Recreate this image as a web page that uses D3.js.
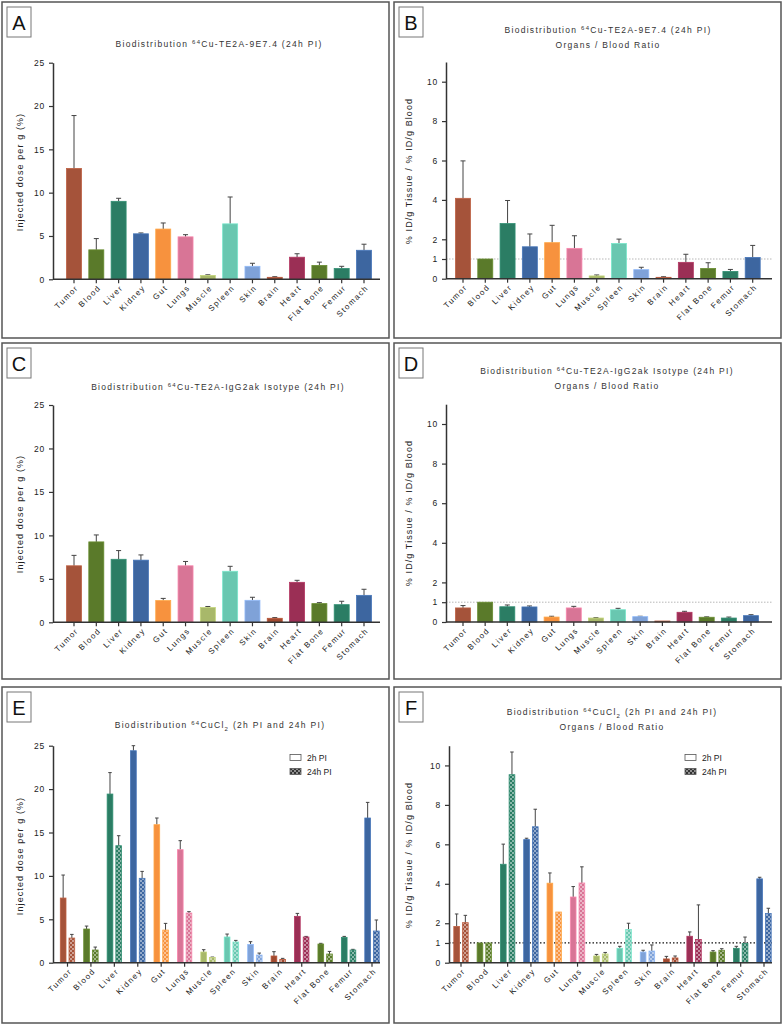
<!DOCTYPE html>
<html>
<head>
<meta charset="utf-8">
<script src="https://cdn.jsdelivr.net/npm/d3@7"></script>
<style>
  body { margin: 0; background: #fff; }
  svg { display: block; font-family: "Liberation Sans", Arial, sans-serif; }
</style>
</head>
<body>
<svg id="chart" width="784" height="1026"></svg>
<script>
// organs shown on every x axis
const organs = ["Tumor", "Blood", "Liver", "Kidney", "Gut", "Lungs", "Muscle", "Spleen",
  "Skin", "Brain", "Heart", "Flat Bone", "Femur", "Stomach"]
const organColors = ["#a5533a", "#5a7a2a", "#2b7d64", "#3d66a0", "#f7923e", "#d87596", "#a8b86a",
  "#69c7b0", "#7fa2d8", "#a04a30", "#9b2f55", "#5a7a2a", "#2b7d64", "#3d66a0"]

// A: 64Cu-TE2A-9E7.4, %ID/g (24h)
const aMean = [12.8, 3.4, 9.0, 5.25, 5.8, 4.9, 0.45, 6.4, 1.5, 0.23, 2.55, 1.6, 1.25, 3.35]
const aErr = [6.1, 1.3, 0.35, 0.1, 0.7, 0.25, 0.07, 3.1, 0.35, 0.07, 0.4, 0.38, 0.25, 0.7]
// B: organ / blood ratio
const bMean = [4.08, 1.0, 2.8, 1.62, 1.83, 1.54, 0.14, 1.79, 0.46, 0.07, 0.83, 0.52, 0.37, 1.08]
const bErr = [1.9, 0, 1.17, 0.65, 0.88, 0.64, 0.05, 0.22, 0.12, 0.03, 0.41, 0.29, 0.1, 0.61]
// C: 64Cu-TE2A-IgG2ak isotype, %ID/g (24h)
const cMean = [6.5, 9.25, 7.25, 7.15, 2.5, 6.5, 1.7, 5.87, 2.53, 0.46, 4.6, 2.15, 2.03, 3.1]
const cErr = [1.2, 0.8, 1.0, 0.6, 0.25, 0.5, 0.12, 0.57, 0.35, 0.08, 0.23, 0.11, 0.39, 0.7]
// D: organ / blood ratio
const dMean = [0.71, 1.0, 0.77, 0.76, 0.25, 0.71, 0.2, 0.62, 0.27, 0.05, 0.49, 0.24, 0.2, 0.32]
const dErr = [0.12, 0, 0.09, 0.05, 0.04, 0.08, 0.02, 0.07, 0.02, 0, 0.05, 0.02, 0.05, 0.05]
// E: 64CuCl2, %ID/g at 2h and 24h
const e2hMean = [7.45, 3.88, 19.43, 24.42, 15.9, 13.02, 1.23, 2.96, 2.11, 0.77, 5.34, 2.15, 2.92, 16.67]
const e2hErr = [2.65, 0.34, 2.47, 0.58, 0.77, 1.04, 0.27, 0.34, 0.31, 0.5, 0.34, 0.08, 0.11, 1.8]
const e24hMean = [2.84, 1.46, 13.48, 9.72, 3.76, 5.72, 0.61, 2.38, 0.88, 0.38, 2.96, 1.0, 1.46, 3.65]
const e24hErr = [0.42, 0.34, 1.15, 0.8, 0.77, 0.16, 0.04, 0.19, 0.23, 0.12, 0.07, 0.3, 0.08, 1.27]
// F: organ / blood ratio
const f2hMean = [1.84, 1.0, 4.99, 6.24, 4.03, 3.33, 0.34, 0.73, 0.54, 0.19, 1.34, 0.54, 0.73, 4.25]
const f2hErr = [0.63, 0, 1.02, 0.07, 0.52, 0.53, 0.08, 0.1, 0.09, 0.13, 0.22, 0.07, 0.1, 0.08]
const f24hMean = [2.03, 1.0, 9.53, 6.89, 2.57, 4.04, 0.44, 1.68, 0.59, 0.24, 1.18, 0.63, 0.98, 2.49]
const f24hErr = [0.37, 0, 1.15, 0.89, 0, 0.82, 0.08, 0.32, 0.31, 0.1, 1.75, 0.08, 0.32, 0.27]

const seriesNames = ["2h PI", "24h PI"]
const doseTicks = [0, 5, 10, 15, 20, 25]
const ratioTicks = [0, 1, 2, 4, 6, 8, 10]

const svg = d3.select("#chart")
const defs = svg.append("defs")

// checkered fill for the 24h bars, one per colour
function checker(color, id) {
  const p = defs.append("pattern").attr("id", id)
    .attr("width", 4).attr("height", 4).attr("patternUnits", "userSpaceOnUse")
  p.append("rect").attr("width", 4).attr("height", 4).attr("fill", color)
  const light = d3.interpolateRgb(color, "#fff")(0.45)
  p.append("rect").attr("width", 2).attr("height", 2).attr("fill", light)
  p.append("rect").attr("x", 2).attr("y", 2).attr("width", 2).attr("height", 2).attr("fill", light)
  return `url(#${id})`
}
const checkFill = organColors.map((c, i) => checker(c, "chk" + i))
const legendCheck = checker("#333", "chkLegend")

function drawPanel(p) {
  const g = svg.append("g")
  // frame + letter box
  g.append("rect").attr("x", p.frame[0]).attr("y", p.frame[1])
    .attr("width", p.frame[2] - p.frame[0]).attr("height", p.frame[3] - p.frame[1])
    .attr("fill", "none").attr("stroke", "#555").attr("stroke-width", 1.5)
  g.append("rect").attr("x", p.frame[0] + 5).attr("y", p.frame[1] + 5)
    .attr("width", 24).attr("height", 30)
    .attr("fill", "#fff").attr("stroke", "#777").attr("stroke-width", 1)
  g.append("text").attr("x", p.frame[0] + 17).attr("y", p.frame[1] + 28)
    .attr("text-anchor", "middle").style("font-size", "20px").style("fill", "#111")
    .text(p.letter)

  // title lines; a part may be {sup} or {sub}
  p.title.forEach((line, li) => {
    const t = g.append("text").attr("x", p.titleX).attr("y", p.titleY + li * 14.5)
      .attr("text-anchor", "middle").style("font-size", "8.5px")
      .style("letter-spacing", "1.3px").style("fill", "#333")
    let back = 0
    line.forEach(part => {
      if (typeof part === "string") {
        const s = t.append("tspan").text(part)
        if (back) s.attr("dy", back)
        back = 0
      } else {
        const dy = part.sup ? -3.5 : 2.5
        t.append("tspan").attr("dy", dy).style("font-size", "6px").text(part.sup || part.sub)
        back = -dy
      }
    })
  })

  const y = d3.scaleLinear().domain([0, p.yMax]).range([p.y0, p.yTop])
  const step = (p.c1 - p.c0) / (organs.length - 1)
  const groupW = p.grouped ? 14.4 : 15
  const pad = 1 - groupW / step
  const x = d3.scaleBand().domain(organs)
    .range([p.c0 - step / 2, p.c1 + step / 2])
    .paddingInner(pad).paddingOuter(pad / 2)

  // reference line at ratio 1
  if (p.refLine) {
    g.append("line").attr("x1", p.xLeft).attr("x2", p.xRight)
      .attr("y1", y(1)).attr("y2", y(1))
      .attr("stroke", p.refLine.color).attr("stroke-width", p.refLine.width)
      .attr("stroke-dasharray", p.refLine.dash)
  }

  const rows = []
  if (!p.grouped) {
    organs.forEach((o, i) => rows.push({
      x: x(o), w: x.bandwidth(), v: p.mean[i], e: p.err[i],
      fill: organColors[i], stroke: organColors[i]
    }))
  } else {
    const x1 = d3.scaleBand().domain(seriesNames).range([0, x.bandwidth()]).paddingInner(0.345)
    organs.forEach((o, i) => {
      rows.push({ x: x(o) + x1("2h PI"), w: x1.bandwidth(), v: p.mean[i], e: p.err[i],
        fill: organColors[i], stroke: organColors[i] })
      rows.push({ x: x(o) + x1("24h PI"), w: x1.bandwidth(), v: p.mean2[i], e: p.err2[i],
        fill: checkFill[i], stroke: organColors[i] })
    })
  }

  const cap = p.grouped ? 3.5 : 5
  const bars = g.append("g")
  rows.forEach(d => {
    const cx = d.x + d.w / 2
    if (d.e > 0) {
      bars.append("line").attr("x1", cx).attr("x2", cx)
        .attr("y1", y(d.v)).attr("y2", y(d.v + d.e))
        .attr("stroke", "#444").attr("stroke-width", 1)
      bars.append("line").attr("x1", cx - cap / 2).attr("x2", cx + cap / 2)
        .attr("y1", y(d.v + d.e)).attr("y2", y(d.v + d.e))
        .attr("stroke", "#444").attr("stroke-width", 1)
    }
    bars.append("rect").attr("x", d.x).attr("y", y(d.v))
      .attr("width", d.w).attr("height", y(0) - y(d.v))
      .attr("fill", d.fill)
      .attr("stroke", d3.color(d.stroke).brighter(0.4)).attr("stroke-width", 0.8)
  })

  // y axis
  const ya = g.append("g").attr("transform", `translate(${p.xLeft},0)`)
    .call(d3.axisLeft(y).tickValues(p.ticks).tickSize(4).tickSizeOuter(0).tickPadding(4))
  ya.select(".domain").attr("stroke", "#333").attr("stroke-width", 1.5)
  ya.selectAll(".tick line").attr("stroke", "#333").attr("stroke-width", 1.2)
  ya.selectAll(".tick text").style("fill", "#222").style("font-size", "8.5px")
    .style("letter-spacing", "0.8px").style("font-family", "Liberation Sans, Arial, sans-serif")

  // x axis
  const xa = g.append("g").attr("transform", `translate(0,${p.y0})`)
    .call(d3.axisBottom(x).tickSize(4).tickSizeOuter(0))
  xa.select(".domain").remove()
  xa.append("line").attr("x1", p.xLeft).attr("x2", p.xRight)
    .attr("stroke", "#333").attr("stroke-width", 1.5)
  xa.selectAll(".tick line").attr("stroke", "#333").attr("stroke-width", 1.2)
  xa.selectAll(".tick text")
    .attr("text-anchor", "end").style("fill", "#222")
    .attr("transform", "translate(3,7) rotate(-45)")
    .attr("dy", "0.35em").attr("y", 0)
    .style("font-size", "8px").style("letter-spacing", "1.4px")
    .style("font-family", "Liberation Sans, Arial, sans-serif")

  // y label
  g.append("text")
    .attr("transform", `translate(${p.labelX},${p.labelY}) rotate(-90)`)
    .attr("text-anchor", "middle").style("font-size", "9px")
    .style("letter-spacing", "1.1px").style("fill", "#222")
    .text(p.yLabel)

  // legend
  if (p.legendX) {
    seriesNames.forEach((s, i) => {
      const ly = p.legendY + i * 14
      g.append("rect").attr("x", p.legendX).attr("y", ly - 3.5).attr("width", 11).attr("height", 6)
        .attr("fill", i ? legendCheck : "#fff").attr("stroke", "#555").attr("stroke-width", 0.8)
      g.append("text").attr("x", p.legendX + 17).attr("y", ly + 3)
        .style("font-size", "8.5px").style("fill", "#222").text(s)
    })
  }
}

const doseLabel = "Injected dose per g (%)"
const ratioLabel = "% ID/g Tissue / % ID/g Blood"
const lightRef = { color: "#999", width: 0.7, dash: "1.5,1.5" }

drawPanel({ letter: "A", frame: [2, 2, 389, 338], title: [["Biodistribution ", { sup: "64" }, "Cu-TE2A-9E7.4 (24h PI)"]],
  titleX: 219, titleY: 47, xLeft: 53, xRight: 380, y0: 279.3, yTop: 62.7, yMax: 25, ticks: doseTicks,
  c0: 74, c1: 364, mean: aMean, err: aErr, yLabel: doseLabel, labelX: 23, labelY: 172 })
drawPanel({ letter: "B", frame: [394, 2, 781, 338],
  title: [["Biodistribution ", { sup: "64" }, "Cu-TE2A-9E7.4 (24h PI)"], ["Organs / Blood Ratio"]],
  titleX: 608, titleY: 33, xLeft: 446, xRight: 772, y0: 278.7, yTop: 62, yMax: 11, ticks: ratioTicks,
  c0: 463, c1: 752.7, mean: bMean, err: bErr, refLine: lightRef, yLabel: ratioLabel, labelX: 412, labelY: 171 })
drawPanel({ letter: "C", frame: [2, 343, 389, 679], title: [["Biodistribution ", { sup: "64" }, "Cu-TE2A-IgG2ak Isotype (24h PI)"]],
  titleX: 218, titleY: 390, xLeft: 53, xRight: 380, y0: 622.3, yTop: 405, yMax: 25, ticks: doseTicks,
  c0: 74, c1: 364, mean: cMean, err: cErr, yLabel: doseLabel, labelX: 23, labelY: 514 })
drawPanel({ letter: "D", frame: [394, 343, 781, 679],
  title: [["Biodistribution ", { sup: "64" }, "Cu-TE2A-IgG2ak Isotype (24h PI)"], ["Organs / Blood Ratio"]],
  titleX: 607, titleY: 374, xLeft: 446, xRight: 772, y0: 622, yTop: 404.2, yMax: 11, ticks: ratioTicks,
  c0: 463, c1: 751, mean: dMean, err: dErr, refLine: lightRef, yLabel: ratioLabel, labelX: 412, labelY: 513 })
drawPanel({ letter: "E", frame: [2, 687, 389, 1023], title: [["Biodistribution ", { sup: "64" }, "CuCl", { sub: "2" }, " (2h PI and 24h PI)"]],
  titleX: 220, titleY: 728, xLeft: 53, xRight: 380, y0: 962.7, yTop: 745.7, yMax: 25, ticks: doseTicks,
  c0: 67.5, c1: 372, grouped: true, mean: e2hMean, err: e2hErr, mean2: e24hMean, err2: e24hErr,
  yLabel: doseLabel, labelX: 23, labelY: 856, legendX: 290, legendY: 758 })
drawPanel({ letter: "F", frame: [394, 687, 781, 1023],
  title: [["Biodistribution ", { sup: "64" }, "CuCl", { sub: "2" }, " (2h PI and 24h PI)"], ["Organs / Blood Ratio"]],
  titleX: 612, titleY: 715, xLeft: 449, xRight: 772, y0: 962.7, yTop: 745.7, yMax: 11, ticks: ratioTicks,
  c0: 461, c1: 764, grouped: true, mean: f2hMean, err: f2hErr, mean2: f24hMean, err2: f24hErr,
  refLine: { color: "#111", width: 1.2, dash: "1.5,2" }, yLabel: ratioLabel, labelX: 412, labelY: 855,
  legendX: 685, legendY: 758 })
</script>
</body>
</html>
